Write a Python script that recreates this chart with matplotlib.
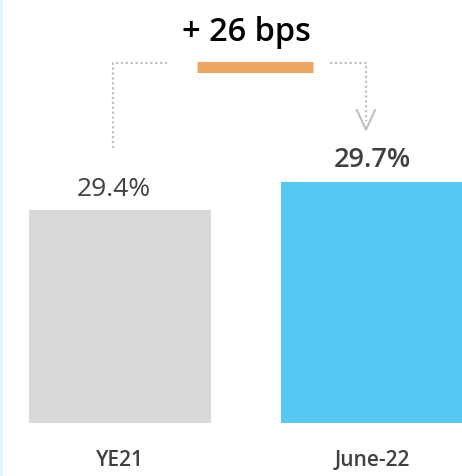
import matplotlib.pyplot as plt

# margin data
periods = ['YE21', 'June-22']
margin = [29.4, 29.7]
change_label = '+ 26 bps'
bar_colors = ['#D9D9D9', '#56C8F2']
base = 27.12

plt.rcParams['font.family'] = ['Open Sans', 'DejaVu Sans']

fig = plt.figure(figsize=(4.62, 4.77), dpi=100)
ax = fig.add_axes([0, 0, 1, 1])
ax.set_xlim(-0.476, 1.357)
ax.set_ylim(26.55, 31.66)
ax.axis('off')

x = range(len(periods))
heights = [m - base for m in margin]
ax.bar(x, heights, bottom=base, width=0.72, color=bar_colors)

# value labels
ax.text(-0.025, margin[0] + 0.16, f'{margin[0]:.1f}%', ha='center', va='baseline',
        fontsize=19, color='#404040')
ax.text(1, margin[1] + 0.17, f'{margin[1]:.1f}%', ha='center', va='baseline',
        fontsize=19.5, color='#404040', fontweight='semibold')

# category labels
for i, p in enumerate(periods):
    ax.text(i, 26.67, p, ha='center', va='baseline', fontsize=15,
            color='#404040', fontweight='semibold')

# change indicator
ax.text(0.5, 31.22, change_label, ha='center', va='baseline', fontsize=23.5,
        color='black', fontweight='semibold')
ax.plot([0.306, 0.766], [30.93, 30.93], color='#EDA762', lw=8,
        solid_capstyle='butt')

dot = dict(color='#C0C0C0', lw=1.6, linestyle=(0, (1, 1.2)))
ax.plot([-0.028, -0.028, 0.198], [30.06, 30.97, 30.97], **dot)
ax.plot([0.833, 0.976, 0.976], [30.97, 30.97, 30.35], **dot)
ax.plot([0.940, 0.976, 1.012], [30.47, 30.26, 30.47], color='#C0C0C0', lw=1.5)

# thin frame line on the left edge
fig.add_artist(plt.Line2D([0.002, 0.002], [0, 1], color='#E3F4FB', lw=2))

fig.savefig('out.png', dpi=100)
